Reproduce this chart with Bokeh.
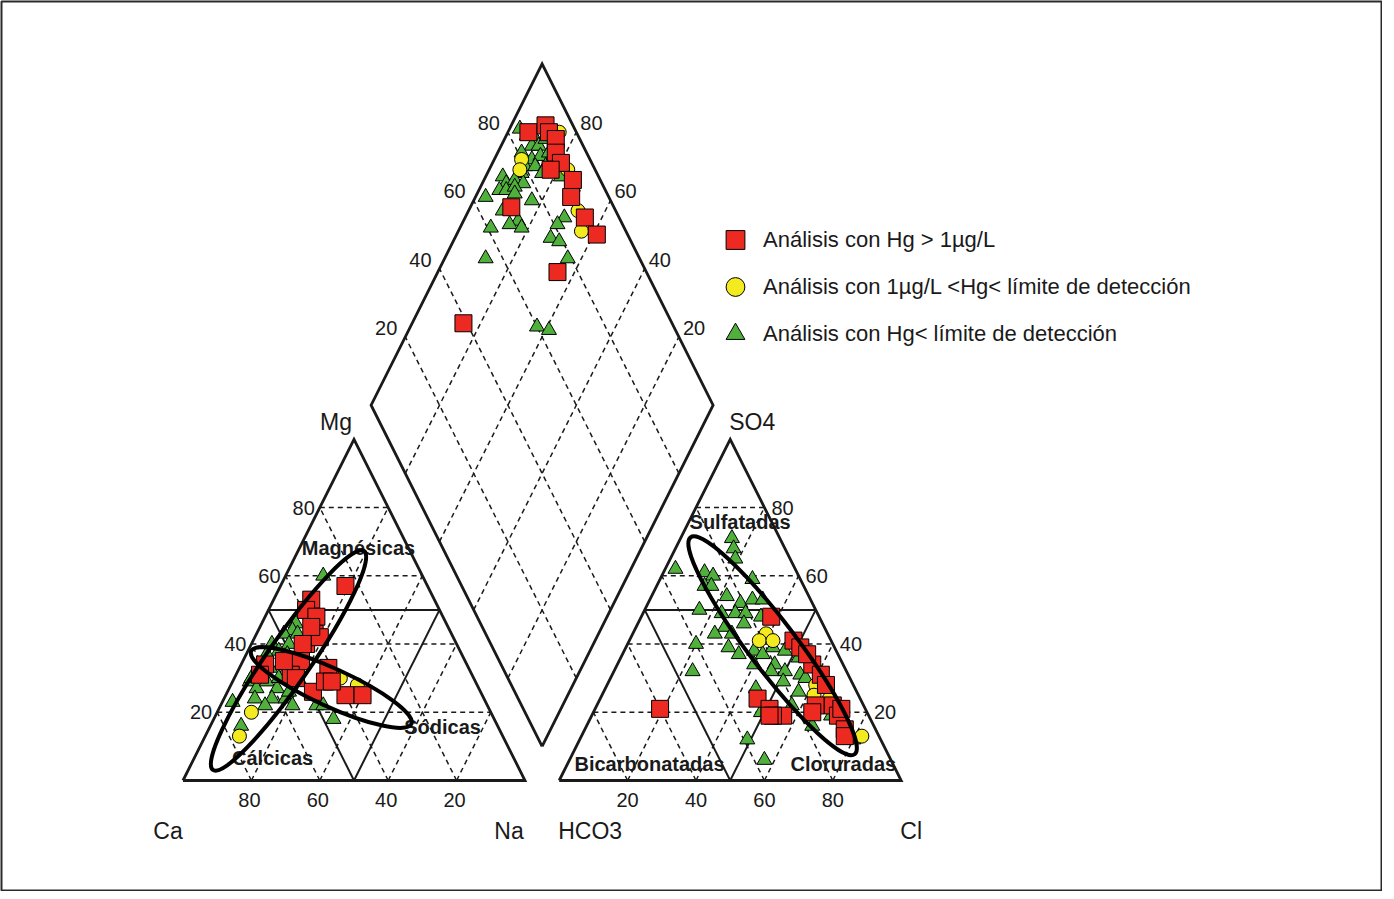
import numpy as np
from bokeh.plotting import figure
from bokeh.models import ColumnDataSource, Legend, LegendItem, Range1d
from bokeh.core.properties import value
from bokeh.embed import file_html
from bokeh.resources import INLINE

# ---------------- data (% of meq/L) ----------------
# Cation triangle: Mg % and Na(+K) %  (Ca = remainder)
cat_red_mg = [57, 53, 50, 48, 43, 40, 42, 40, 35, 34, 33, 31, 26, 29, 25, 25, 30, 31, 35, 29, 45]
cat_red_na = [19, 11, 11, 15, 17, 16, 19, 15, 17, 7, 26, 16, 25, 27, 35, 40, 18, 7, 12, 29, 15]
cat_yel_mg = [30, 28, 20, 13, 31]
cat_yel_na = [31, 37, 10, 10, 28]
cat_grn_mg = [60, 46, 44, 43, 43, 40, 40, 38, 37, 37, 35, 33, 31, 32, 29, 27, 29, 27, 24, 24,
              24, 22, 22, 22, 18, 16, 30, 26, 22, 30, 23, 30]
cat_grn_na = [11, 10, 10, 8, 12, 11, 6, 9, 12, 6, 12, 9, 6, 14, 5, 8, 10, 14, 9, 14,
              18, 13, 28, 30, 35, 9, 13, 18, 21, 5, 3, 27]

# Anion triangle: SO4 % and Cl %  (HCO3 = remainder)
an_red_so4 = [21, 48, 41, 39, 34, 31, 24, 21, 19, 19, 22, 22, 19, 21, 15, 13, 28, 37, 19, 20]
an_red_cl = [19, 38, 48, 51, 57, 61, 46, 51, 56, 53, 64, 69, 72, 72, 76, 77, 64, 54, 52, 64]
an_yel_so4 = [43, 41, 41, 28, 25, 13, 24]
an_yel_cl = [39, 38, 42, 61, 62, 82, 67]
an_grn_so4 = [71, 68, 65, 62, 61, 60, 59, 57, 57, 54, 52, 53, 53, 50, 49, 49, 49, 48, 45, 46,
              43, 43, 40, 39, 37, 38, 37, 39, 38, 36, 32, 34, 34, 32, 31, 29, 30, 27, 22, 20,
              16, 12, 6, 26, 19, 12, 32]
an_grn_cl = [15, 17, 19, 3, 12, 15, 27, 14, 16, 22, 27, 30, 33, 16, 23, 27, 30, 35, 26, 31,
             24, 29, 20, 30, 34, 38, 41, 43, 47, 52, 23, 40, 46, 50, 55, 51, 57, 44, 57, 49,
             66, 49, 57, 57, 70, 80, 46]

# Diamond: Ca+Mg % and SO4+Cl %
dia_red_camg = [94, 90, 88, 85, 83, 80, 82, 74, 72, 65, 59, 65, 85, 88]
dia_red_so4cl = [86, 92, 92, 93, 91, 91, 87, 92, 89, 90, 91, 74, 39, 70]
dia_yel_camg = [92, 85, 77, 68, 64, 91]
dia_yel_so4cl = [80, 95, 92, 89, 87, 78]
dia_grn_camg = [97, 94, 92, 91, 89, 88, 93, 89, 87, 85, 90, 87, 84, 82, 95, 90, 84, 78, 93, 91,
                88, 94, 92, 90, 73, 97, 89, 83, 90, 84, 86, 82, 71, 72, 72, 69, 91, 88, 64, 63, 59]
dia_grn_so4cl = [84, 85, 87, 85, 87, 90, 81, 83, 86, 89, 80, 83, 86, 88, 72, 78, 84, 89, 72, 75,
                 77, 69, 71, 74, 91, 64, 73, 77, 67, 70, 67, 70, 84, 81, 77, 79, 61, 55, 79, 60, 63]

TICKS = [20, 40, 60, 80]
series_labels = ["Análisis con Hg > 1µg/L",
                 "Análisis con 1µg/L <Hg< límite de detección",
                 "Análisis con Hg< límite de detección"]
facies_labels = ["Magnésicas", "Sódicas", "Cálcicas", "Sulfatadas", "Bicarbonatadas", "Cloruradas"]

# ---------------- geometry ----------------
H = np.sqrt(3) / 2
GAP = 10.0


def cat_xy(mg, na):
    mg = np.asarray(mg, float); na = np.asarray(na, float)
    return na + mg / 2, mg * H


def an_xy(so4, cl):
    so4 = np.asarray(so4, float); cl = np.asarray(cl, float)
    return 100 + GAP + cl + so4 / 2, so4 * H


def dia_xy(camg, so4cl):
    camg = np.asarray(camg, float); so4cl = np.asarray(so4cl, float)
    return 100 + GAP / 2 + (so4cl - camg) / 2, GAP * H + (camg + so4cl) * H


FONT = "Liberation Sans"
INK = "#1a1a1a"
RED, YEL, GRN = "#ec2a22", "#f3ea1f", "#4fb13c"

# page mapping: x=0 at 190.5px, 3.42 px/unit ; y=0 at 788px, 3.94 px/unit
SX, SY = 3.42, 3.94
X_START = (9 - 190.5) / SX
X_END = X_START + 1380 / SX
Y_END = (788 - 9) / SY
Y_START = Y_END - 889 / SY

p = figure(width=1382, height=891, x_range=Range1d(X_START, X_END), y_range=Range1d(Y_START, Y_END),
           output_backend="svg", toolbar_location=None, min_border=1,
           x_axis_location=None, y_axis_location=None,
           background_fill_color="white", border_fill_color="white",
           outline_line_color="#2a2a2a", outline_line_width=2)
p.grid.visible = False

# dashed grid
gx, gy = [], []
for k in TICKS:
    for fx, fy in [cat_xy([k, k], [0, 100 - k]), cat_xy([0, 100 - k], [k, k]), cat_xy([0, 100 - k], [100 - k, 0]),
                   an_xy([k, k], [0, 100 - k]), an_xy([0, 100 - k], [k, k]), an_xy([0, 100 - k], [100 - k, 0]),
                   dia_xy([k, k], [0, 100]), dia_xy([0, 100], [k, k])]:
        gx.append(list(fx)); gy.append(list(fy))
p.multi_line(gx, gy, line_color=INK, line_width=1.5, line_dash="5 4")

# inner solid lines
ix, iy = [], []
for fx, fy in [cat_xy([50, 50], [0, 50]), cat_xy([0, 50], [50, 0]), cat_xy([0, 50], [50, 50]),
               an_xy([50, 50], [0, 50]), an_xy([0, 50], [50, 0]), an_xy([0, 50], [50, 50])]:
    ix.append(list(fx)); iy.append(list(fy))
p.multi_line(ix, iy, line_color=INK, line_width=2)

# outlines
ox, oy = [], []
for fx, fy in [cat_xy([0, 0, 100, 0], [0, 100, 0, 0]), an_xy([0, 0, 100, 0], [0, 100, 0, 0]),
               dia_xy([0, 100, 100, 0, 0], [0, 0, 100, 100, 0])]:
    ox.append(list(fx)); oy.append(list(fy))
p.multi_line(ox, oy, line_color=INK, line_width=2.8, line_join="miter")


def series(cm, cn, aso, acl, dcm, dsc):
    x1, y1 = cat_xy(cm, cn)
    x2, y2 = an_xy(aso, acl)
    x3, y3 = dia_xy(dcm, dsc)
    return ColumnDataSource(dict(x=np.concatenate([x1, x2, x3]), y=np.concatenate([y1, y2, y3])))


src_red = series(cat_red_mg, cat_red_na, an_red_so4, an_red_cl, dia_red_camg, dia_red_so4cl)
src_yel = series(cat_yel_mg, cat_yel_na, an_yel_so4, an_yel_cl, dia_yel_camg, dia_yel_so4cl)
src_grn = series(cat_grn_mg, cat_grn_na, an_grn_so4, an_grn_cl, dia_grn_camg, dia_grn_so4cl)

r_grn = p.scatter("x", "y", source=src_grn, marker="triangle", size=15, fill_color=GRN, line_color="black", line_width=1)
r_yel = p.scatter("x", "y", source=src_yel, marker="circle", size=14, fill_color=YEL, line_color="black", line_width=1)
r_red = p.scatter("x", "y", source=src_red, marker="square", size=17, fill_color=RED, line_color="black", line_width=1)

# tick labels
tx, ty, tt, tal, txo, tyo = [], [], [], [], [], []
for k in TICKS:
    x, y = cat_xy(0, k); tx.append(float(x)); ty.append(float(y)); tt.append(str(100 - k)); tal.append("center"); txo.append(-2); tyo.append(19)
    x, y = cat_xy(k, 0); tx.append(float(x)); ty.append(float(y)); tt.append(str(k)); tal.append("right"); txo.append(-5); tyo.append(0)
    x, y = an_xy(0, k); tx.append(float(x)); ty.append(float(y)); tt.append(str(k)); tal.append("center"); txo.append(0); tyo.append(19)
    x, y = an_xy(k, 100 - k); tx.append(float(x)); ty.append(float(y)); tt.append(str(k)); tal.append("left"); txo.append(7); tyo.append(0)
    x, y = dia_xy(100, k); tx.append(float(x)); ty.append(float(y)); tt.append(str(k)); tal.append("right"); txo.append(-8); tyo.append(-9)
    x, y = dia_xy(k, 100); tx.append(float(x)); ty.append(float(y)); tt.append(str(k)); tal.append("left"); txo.append(4); tyo.append(-9)
p.text(x="x", y="y", text="t", source=ColumnDataSource(dict(x=tx, y=ty, t=tt, a=tal, xo=txo, yo=tyo)),
       text_align="a", x_offset="xo", y_offset="yo", text_baseline="middle",
       text_font=value(FONT), text_font_size="20px", text_color=INK)

# corner labels
cx, cy = [], []
for fx, fy in [cat_xy(100, 0), an_xy(100, 0), cat_xy(0, 0), cat_xy(0, 100), an_xy(0, 0), an_xy(0, 100)]:
    cx.append(float(fx)); cy.append(float(fy))
p.text(x=cx, y=cy, text=["Mg", "SO4", "Ca", "Na", "HCO3", "Cl"],
       x_offset=[-18, 22, -15, -16, 31, 10], y_offset=[-17, -17, 50, 50, 50, 50],
       text_align="center", text_baseline="middle",
       text_font=value(FONT), text_font_size="23px", text_color=INK)

# facies labels (plot units)
fx_ = [51.3, 75.9, 26.2, 162.9, 136.4, 193.1]
fy_ = [59.1, 13.5, 5.6, 65.5, 4.3, 4.3]
p.text(x=fx_, y=fy_, text=facies_labels, text_align="center", text_baseline="middle",
       text_font=value(FONT), text_font_size="20px", text_font_style="bold", text_color=INK)

# ellipses (centres in plot units, sizes in screen px)
ell_x = [30.85, 43.36, 172.4]
ell_y = [30.46, 23.6, 34.2]
ell_w = [266, 176, 272]
ell_h = [44, 38, 48]
ell_a = np.radians([55.4, -24.5, -52.9])
p.ellipse(x=ell_x, y=ell_y, width=ell_w, height=ell_h, angle=ell_a,
          width_units="screen", height_units="screen",
          fill_alpha=0, line_color="black", line_width=4)

legend = Legend(items=[LegendItem(label=value(series_labels[0]), renderers=[r_red]),
                       LegendItem(label=value(series_labels[1]), renderers=[r_yel]),
                       LegendItem(label=value(series_labels[2]), renderers=[r_grn])],
                location=(709, 533), orientation="vertical",
                glyph_width=50, glyph_height=47, spacing=0, padding=0, margin=0,
                label_standoff=3, label_text_font=FONT, label_text_font_size="22px",
                label_text_color=INK, border_line_alpha=0, background_fill_alpha=0)
p.add_layout(legend)

open("out.html", "w", encoding="utf-8").write(file_html(p, INLINE))
